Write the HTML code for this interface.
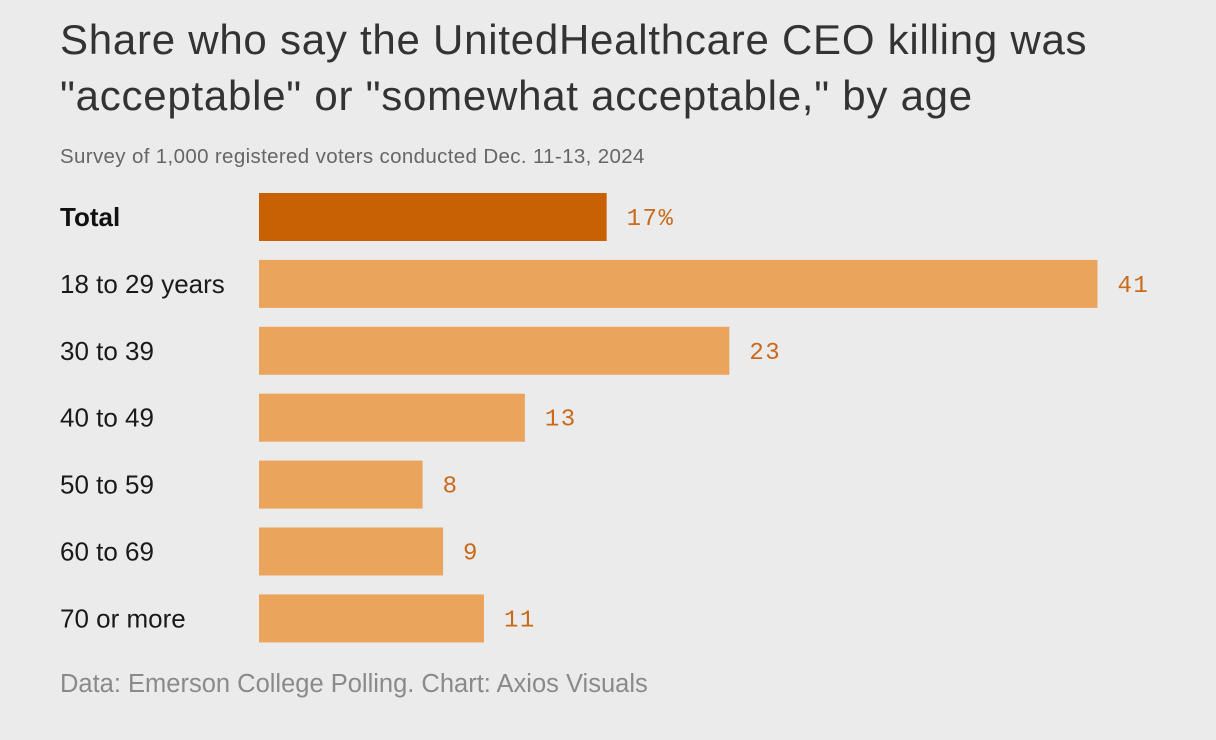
<!DOCTYPE html>
<html><head><meta charset="utf-8"><style>
body{margin:0;width:1216px;height:740px;background:#ebebeb;font-family:"Liberation Sans",sans-serif;overflow:hidden;position:relative}
.t{position:absolute;left:60px;top:12px;font-size:42px;line-height:56px;color:#333;letter-spacing:0.75px}
.s{position:absolute;left:60px;top:145px;font-size:20.5px;color:#666;letter-spacing:0.35px}
.f{position:absolute;left:60px;top:670px;font-size:25.5px;color:#8a8a8a}
svg{position:absolute;left:0;top:0}
</style></head><body>
<div class="t">Share who say the UnitedHealthcare CEO killing was<br>"acceptable" or "somewhat acceptable," by age</div>
<div class="s">Survey of 1,000 registered voters conducted Dec. 11-13, 2024</div>
<div class="f">Data: Emerson College Polling. Chart: Axios Visuals</div>
<svg id="c" width="1216" height="740"></svg>
<script>
const categories=["Total","18 to 29 years","30 to 39","40 to 49","50 to 59","60 to 69","70 or more"];
const values=[17,41,23,13,8,9,11];
const valueLabels=["17%","41","23","13","8","9","11"];
const svg=document.getElementById('c');const NS="http://www.w3.org/2000/svg";
const x0=259,scale=20.45,y0=193,step=66.9,bh=48;
const xS=v=>v*scale, yS=i=>y0+i*step;
categories.forEach((c,i)=>{
 const y=yS(i);
 const t=document.createElementNS(NS,'text');
 
 
 t.setAttribute('x',60);t.setAttribute('y',y+bh/2+9);
 t.setAttribute('font-size','26');
 t.setAttribute('fill',i===0?'#111':'#1a1a1a');if(i===0)t.setAttribute('font-weight','bold');
 t.textContent=c;svg.appendChild(t);
 const r=document.createElementNS(NS,'rect');
 
 
 r.setAttribute('x',x0);r.setAttribute('y',y);r.setAttribute('width',xS(values[i]));r.setAttribute('height',bh);
 r.setAttribute('fill',i===0?'#c86103':'#eba45c');svg.appendChild(r);
 const v=document.createElementNS(NS,'text');
 
 
 v.setAttribute('x',x0+xS(values[i])+20);v.setAttribute('y',y+bh/2+8);
 v.setAttribute('font-size','24');v.setAttribute('letter-spacing','1.5');v.setAttribute('font-family','Liberation Mono, monospace');
 v.setAttribute('fill','#c96a1a');v.textContent=valueLabels[i];svg.appendChild(v);
});
</script>
</body></html>
